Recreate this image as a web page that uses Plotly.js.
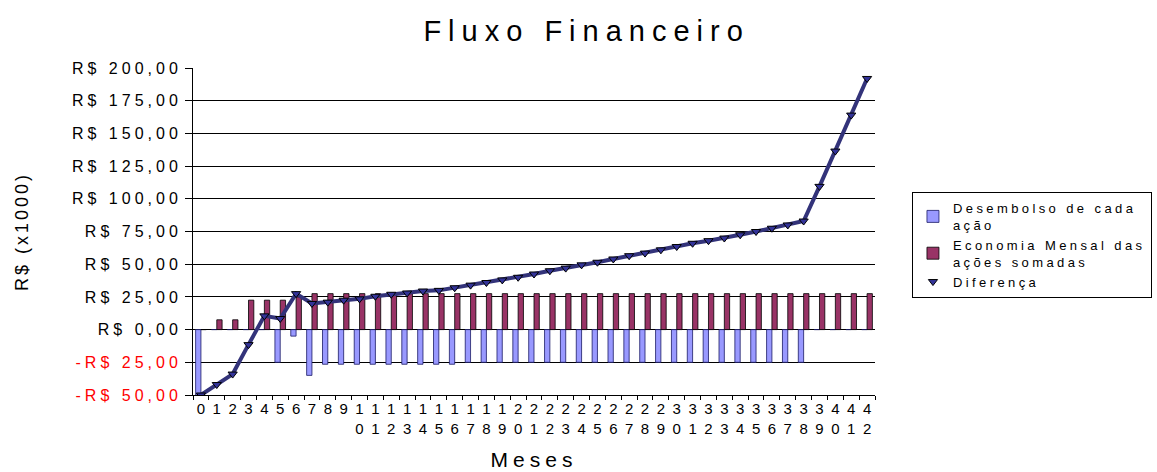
<!DOCTYPE html>
<html>
<head>
<meta charset="utf-8">
<script src="https://cdn.plot.ly/plotly-3.0.1.min.js"></script>
<style>
  html, body { margin: 0; padding: 0; background: #fff; }
  #chart { width: 1157px; height: 472px; }
  .gtitle { letter-spacing: 7px; }
  .ytick text { letter-spacing: 4px; }
  .ytitle { letter-spacing: 3px; }
  .xtitle { letter-spacing: 5px; }
  .legendtext { letter-spacing: 3.4px; }
</style>
</head>
<body>
<div id="chart"></div>
<script>
// ---- data (R$ x1000) ----
const months = ["0","1","2","3","4","5","6","7","8","9","10","11","12","13","14","15","16","17","18","19","20",
                "21","22","23","24","25","26","27","28","29","30","31","32","33","34","35","36","37","38","39","40","41","42"];

const desembolso = [-50, 0, 0, 0, 0, -25, -5, -35,
                    -26.5, -26.5, -26.5, -26.5, -26.5, -26.5, -26.5, -26.5, -26.5,
                    -25, -25, -25, -25, -25, -25, -25, -25, -25, -25, -25,
                    -25, -25, -25, -25, -25, -25, -25, -25, -25, -25, -25,
                    0, 0, 0, 0];

const economia = [0, 7.5, 7.5, 22.5, 22.5, 22.5, 25,
                  27.5, 27.5, 27.5, 27.5, 27.5, 27.5, 27.5, 27.5, 27.5, 27.5, 27.5, 27.5,
                  27.5, 27.5, 27.5, 27.5, 27.5, 27.5, 27.5, 27.5, 27.5, 27.5, 27.5, 27.5,
                  27.5, 27.5, 27.5, 27.5, 27.5, 27.5, 27.5, 27.5, 27.5, 27.5, 27.5, 27.5];

const diferenca = [-50, -42, -34, -11.5, 10.5, 8.5, 27.5, 20, 21, 22.5, 23.5, 25.5, 27, 28, 29.5,
                   30, 32, 34, 36, 38, 40, 42.5, 45, 47, 49.5, 51.5, 54, 56.5, 58.5, 61, 63.5,
                   66, 68, 70, 72.5, 75, 77.5, 80, 83, 109.5, 136.5, 164, 192];

const yTickVals = [-50, -25, 0, 25, 50, 75, 100, 125, 150, 175, 200];
const yTickText = ['<span style="color:#ff0000">-R$ 50,00</span>',
                   '<span style="color:#ff0000">-R$ 25,00</span>',
                   'R$ 0,00', 'R$ 25,00', 'R$ 50,00', 'R$ 75,00', 'R$ 100,00',
                   'R$ 125,00', 'R$ 150,00', 'R$ 175,00', 'R$ 200,00'];
const xTickText = months.map(m => m.length > 1 ? m[0] + '<br>' + m[1] : m);

const legendNames = ['Desembolso de cada<br>ação', 'Economia Mensal das<br>ações somadas', 'Diferença'];

// ---- traces ----
const FONT = 'Liberation Sans, Arial, Helvetica, sans-serif';

const traces = [
  {
    type: 'bar', x: months, y: desembolso, name: legendNames[0],
    marker: { color: '#9999FF', line: { color: '#1a1a66', width: 0.8 } }
  },
  {
    type: 'bar', x: months, y: economia, name: legendNames[1],
    marker: { color: '#993366', line: { color: '#000000', width: 0.8 } }
  },
  {
    type: 'scatter', mode: 'lines', x: months, y: diferenca, name: legendNames[2],
    showlegend: false, line: { color: '#33337a', width: 4 }
  },
  {
    type: 'scatter', mode: 'markers', x: months, y: diferenca, name: legendNames[2],
    marker: { symbol: 'triangle-down', size: 8, color: '#333399', line: { color: '#000', width: 1 } }
  }
];

const layout = {
  width: 1157, height: 472,
  margin: { l: 193, r: 282, t: 68, b: 77, autoexpand: false },
  paper_bgcolor: '#ffffff', plot_bgcolor: '#ffffff',
  font: { family: FONT, color: '#000000' },
  barmode: 'group', bargap: 0.33, bargroupgap: 0,
  title: {
    text: 'Fluxo Financeiro',
    font: { family: FONT, size: 29, color: '#000' },
    x: 0.507, xanchor: 'center', xref: 'container',
    y: 0.934, yanchor: 'middle', yref: 'container'
  },
  xaxis: {
    type: 'category',
    range: [-0.5, 42.5], autorange: false,
    tickmode: 'array', tickvals: months, ticktext: xTickText,
    tickangle: 0,
    tickson: 'boundaries', ticks: 'outside', ticklen: 4, tickcolor: '#000', tickwidth: 1,
    showgrid: false, zeroline: false,
    showline: true, linecolor: '#000', linewidth: 1,
    tickfont: { family: FONT, size: 15, color: '#000' },
    title: { text: 'Meses', font: { family: FONT, size: 21, color: '#000' }, standoff: 16 }
  },
  yaxis: {
    range: [-50, 200], autorange: false,
    tickmode: 'array', tickvals: yTickVals, ticktext: yTickText,
    ticks: 'outside', ticklen: 7, tickcolor: '#000', tickwidth: 1,
    showgrid: true, gridcolor: '#000000', gridwidth: 1,
    zeroline: true, zerolinecolor: '#000', zerolinewidth: 1,
    showline: true, linecolor: '#000', linewidth: 1,
    tickfont: { family: FONT, size: 16, color: '#000' },
    title: { text: 'R$ (x1000)', font: { family: FONT, size: 18, color: '#000' }, standoff: 38 }
  },
  legend: {
    x: 1.0542, y: 0.6208, xanchor: 'left', yanchor: 'top',
    bgcolor: '#ffffff', bordercolor: '#000000', borderwidth: 1,
    font: { family: FONT, size: 13, color: '#000' },
    tracegroupgap: 0
  },
  showlegend: true
};

Plotly.newPlot('chart', traces, layout, { displayModeBar: false, staticPlot: true });
</script>
</body>
</html>
